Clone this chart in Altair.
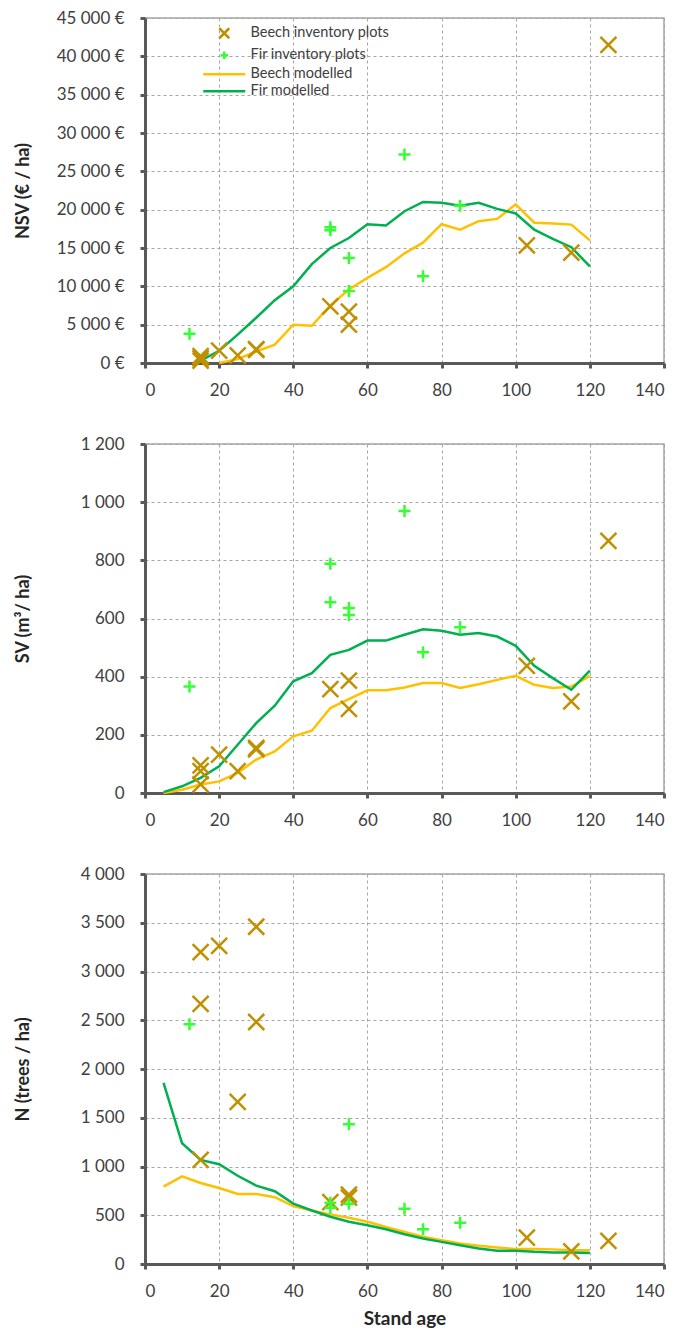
import altair as alt
import pandas as pd

# ---------------- data ----------------
series_names = ["Beech inventory plots", "Fir inventory plots", "Beech modelled", "Fir modelled"]
series_colors = ["#BF9000", "#33FF33", "#FFC000", "#00B050"]

model_ages = [5, 10, 15, 20, 25, 30, 35, 40, 45, 50, 55, 60, 65, 70, 75, 80,
              85, 90, 95, 100, 105, 110, 115, 120]

# NSV (EUR / ha) modelled
beech_nsv_model = [None, None, None, 0, 500, 1500, 2400, 5000, 4850, 7500, 9600, 11100,
                   12500, 14300, 15700, 18100, 17400, 18500, 18800, 20700, 18300, 18200,
                   18050, 16000]
fir_nsv_model = [None, None, 300, 1600, 3700, 5900, 8200, 10000, 12900, 15000, 16300,
                 18100, 17950, 19800, 21000, 20900, 20500, 20900, 20100, 19500, 17400,
                 16200, 15100, 12600]

# SV (m3 / ha) modelled
beech_sv_model = [0, 11, 29, 40, 69, 115, 143, 195, 214, 292, 323, 353, 353, 363, 378,
                  378, 361, 374, 389, 403, 372, 361, 366, 403]
fir_sv_model = [3, 23, 52, 92, 166, 240, 300, 384, 412, 475, 492, 524, 524, 544, 563,
                558, 544, 550, 538, 506, 437, 395, 355, 421]

# N (trees / ha) modelled
beech_n_model = [793, 899, 831, 780, 719, 719, 685, 593, 549, 509, 475, 434, 380, 329,
                 281, 244, 210, 186, 170, 153, 153, 150, 142, 142]
fir_n_model = [1858, 1238, 1068, 1024, 905, 804, 746, 620, 549, 485, 434, 397, 356, 305,
               261, 227, 193, 159, 136, 136, 125, 119, 119, 112]

# inventory plots
beech_plot_ages = [15, 15, 15, 20, 25, 30, 30, 50, 55, 55, 103, 115, 125]
beech_nsv_plots = [900, 300, 600, 1600, 1000, 1800, 1700, 7400, 6700, 5000, 15350, 14400, 41500]
beech_sv_plots = [95, 75, 30, 132, 75, 155, 150, 357, 386, 289, 437, 315, 867]
beech_n_plots = [3198, 2669, 1068, 3262, 1662, 3459, 2482, 634, 712, 680, 271, 129, 237]

fir_plot_ages = [12, 50, 50, 55, 55, 70, 75, 85]
fir_nsv_plots = [3800, 17700, 17300, 13700, 9400, 27200, 11300, 20500]
fir_sv_plots = [366, 788, 656, 636, 612, 970, 484, 570]
fir_n_plots = [2458, 627, 576, 1434, 617, 566, 356, 424]

# ---------------- style ----------------
FONT = "Lato"
TEXT = "#404040"
shape_paths = ["M-1,-1L1,1M1,-1L-1,1",
               "M-0.75,0L0.75,0M0,-0.75L0,0.75",
               "M-4.2,0L4.2,0",
               "M-4.2,0L4.2,0"]
PLOT_W = 519

color_scale = alt.Scale(domain=series_names, range=series_colors)
shape_scale = alt.Scale(domain=series_names, range=shape_paths)


def model_frame(b, f):
    rows = []
    for a, v in zip(model_ages, b):
        if v is not None:
            rows.append({"age": a, "value": v, "series": "Beech modelled"})
    for a, v in zip(model_ages, f):
        if v is not None:
            rows.append({"age": a, "value": v, "series": "Fir modelled"})
    return pd.DataFrame(rows)


def plot_frame(b, f):
    rows = []
    for a, v in zip(beech_plot_ages, b):
        rows.append({"age": a, "value": v, "series": "Beech inventory plots"})
    for a, v in zip(fir_plot_ages, f):
        rows.append({"age": a, "value": v, "series": "Fir inventory plots"})
    return pd.DataFrame(rows)


def panel(mb, mf, pb, pf, height, ytitle, ymax, ystep, label_expr, show_legend, xtitle):
    if show_legend:
        legend = alt.Legend(title=None, orient="none", legendX=72, legendY=8,
                            symbolSize=100, symbolStrokeWidth=2.5, labelFont=FONT,
                            labelFontSize=14.5, labelColor=TEXT, rowPadding=2,
                            labelOffset=19, padding=0)
    else:
        legend = None
    x = alt.X("age:Q", scale=alt.Scale(domain=[0, 140], nice=False),
              axis=alt.Axis(values=list(range(0, 141, 20)), title=xtitle))
    y = alt.Y("value:Q", scale=alt.Scale(domain=[0, ymax], nice=False),
              axis=alt.Axis(values=list(range(0, ymax + 1, ystep)), labelExpr=label_expr,
                            title=ytitle, titleX=-122, titleBaseline="middle"))
    lines = alt.Chart(model_frame(mb, mf)).mark_line(strokeWidth=2.5).encode(
        x=x, y=y,
        color=alt.Color("series:N", scale=color_scale, legend=legend),
    )
    pts = alt.Chart(plot_frame(pb, pf)).mark_point(filled=False, size=256, strokeWidth=2.5,
                                                   opacity=1).encode(
        x=x, y=y,
        color=alt.Color("series:N", scale=color_scale, legend=legend),
        shape=alt.Shape("series:N", scale=shape_scale, legend=legend),
    )
    return alt.layer(lines, pts).properties(width=PLOT_W, height=height)


thou = "replace(format(datum.value, ','), ',', ' ')"

top = panel(beech_nsv_model, fir_nsv_model, beech_nsv_plots, fir_nsv_plots, 345,
            "NSV (€ / ha)", 45000, 5000, thou + " + ' €'", True, None)
mid = panel(beech_sv_model, fir_sv_model, beech_sv_plots, fir_sv_plots, 349,
            "SV (m³/ ha)", 1200, 200, thou, False, None)
bot = panel(beech_n_model, fir_n_model, beech_n_plots, fir_n_plots, 390,
            "N (trees / ha)", 4000, 500, thou, False, "Stand age")

chart = alt.vconcat(top, mid, bot, spacing=35).resolve_scale(
    color="independent", shape="independent"
).properties(
    padding={"left": 5, "top": 0, "right": 0, "bottom": 0}
).configure_view(
    stroke="#a6a6a6", strokeWidth=1.5
).configure_axis(
    domainColor="#595959", domainWidth=3, tickColor="#595959", tickWidth=3, tickSize=5,
    gridColor="#a6a6a6", gridDash=[3, 3], gridWidth=1,
    labelFont=FONT, labelFontSize=17, labelColor=TEXT,
    titleFont=FONT, titleFontWeight="bold", titleColor="#262626",
).configure_axisY(
    labelPadding=16, titleFontSize=18
).configure_axisX(
    labelPadding=14, titleFontSize=19, titlePadding=10
)

chart.save("out.html", embed_options={"renderer": "svg", "actions": False})
